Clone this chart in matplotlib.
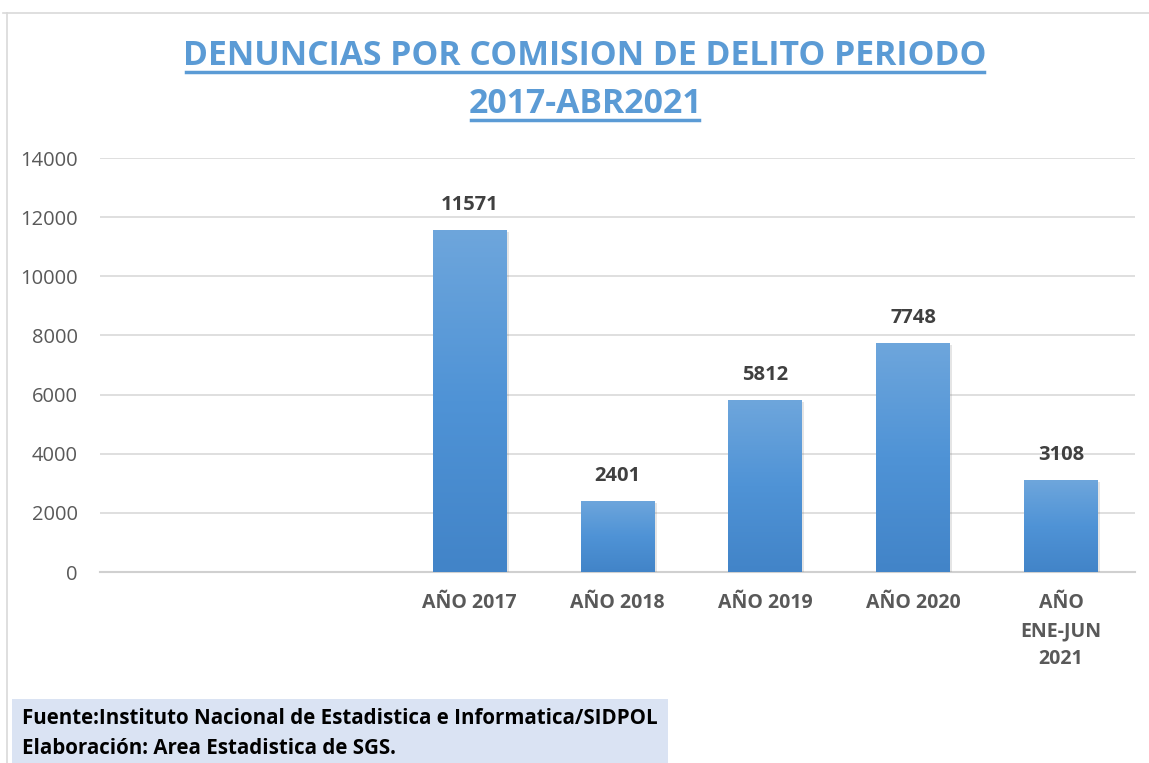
import matplotlib.pyplot as plt
import numpy as np
from matplotlib.lines import Line2D
from matplotlib.patches import Rectangle
from matplotlib.colors import LinearSegmentedColormap
import matplotlib.patheffects as pe

# === Data ===
categories = ["", "", "AÑO 2017", "AÑO 2018", "AÑO 2019", "AÑO 2020", "AÑO\nENE-JUN\n2021"]
values = [None, None, 11571, 2401, 5812, 7748, 3108]
yticks = [0, 2000, 4000, 6000, 8000, 10000, 12000, 14000]

title_lines = ["DENUNCIAS POR COMISION DE DELITO PERIODO", "2017-ABR2021"]
footer = ["Fuente:Instituto Nacional de Estadistica e Informatica/SIDPOL",
          "Elaboración: Area Estadistica de SGS."]

plt.rcParams['font.family'] = ['Open Sans', 'DejaVu Sans']

W, H = 1149, 763
fig = plt.figure(figsize=(W / 100, H / 100), dpi=100)
ax = fig.add_axes([100 / W, (H - 572) / H, 1035 / W, (572 - 158) / H])

blue_top = "#6ea6dc"
blue_bot = "#4284c8"
cmap = LinearSegmentedColormap.from_list("bars", [blue_bot, "#4f93d6", blue_top])

x = np.arange(len(categories))
vals = np.array([v if v is not None else 0 for v in values], dtype=float)
bars = ax.bar(x, vals, width=0.5, color="#5b9bd5", zorder=3,
              path_effects=[pe.SimplePatchShadow(offset=(1.5, -1.5), alpha=0.2, shadow_rgbFace="#7f7f7f"),
                            pe.Normal()])

# vertical gradient inside each bar
grad = np.linspace(0, 1, 256).reshape(-1, 1)
for b, v in zip(bars, values):
    if v is None:
        b.set_visible(False)
        continue
    x0, w = b.get_x(), b.get_width()
    im = ax.imshow(grad, extent=[x0, x0 + w, 0, v], origin="lower", aspect="auto",
                   cmap=cmap, zorder=4)
    im.set_clip_path(b)
    ax.text(x0 + w / 2, v + 500, f"{v}", ha="center", va="bottom",
            fontsize=14.5, fontweight="bold", color="#404040", zorder=5)

ax.set_xlim(-0.5, len(categories) - 0.5)
ax.set_ylim(0, 14000)
ax.set_yticks(yticks)
ax.set_yticklabels([str(t) for t in yticks], fontsize=14.5, color="#595959")
ax.set_xticks(x)
ax.set_xticklabels(categories, fontsize=14, fontweight="bold", color="#595959", linespacing=1.55)
ax.tick_params(axis="both", length=0)
ax.tick_params(axis="y", pad=16)
ax.tick_params(axis="x", pad=15)
for lbl in ax.get_xticklabels():
    lbl.set_verticalalignment("top")

ax.grid(axis="y", color="#d9d9d9", linewidth=1.2, zorder=0)
ax.set_axisbelow(True)
for s in ["top", "right", "left"]:
    ax.spines[s].set_visible(False)
ax.spines["bottom"].set_color("#d0d0d0")
ax.spines["bottom"].set_linewidth(1.5)

# outer chart frame (left and top edges)
fig.add_artist(Line2D([7 / W, 7 / W], [0, (H - 13) / H], color="#d9d9d9", linewidth=1.2))
fig.add_artist(Line2D([3 / W, 1], [(H - 13) / H, (H - 13) / H], color="#d9d9d9", linewidth=1.2))

# title with underline
title_color = "#5b9bd5"
t1 = fig.text(585 / W, (H - 56) / H, title_lines[0], ha="center", va="center",
              fontsize=24.3, fontweight="bold", color=title_color)
t2 = fig.text(585 / W, (H - 104) / H, title_lines[1], ha="center", va="center",
              fontsize=24.3, fontweight="bold", color=title_color)
fig.canvas.draw()
r = fig.canvas.get_renderer()
for t in (t1, t2):
    bb = t.get_window_extent(r)
    yl = bb.y0 + 1
    fig.add_artist(Line2D([(bb.x0 + 3) / W, (bb.x1 - 3) / W], [yl / H, yl / H],
                          color=title_color, linewidth=2.5))

# footer box
fig.add_artist(Rectangle((12 / W, 0), (668 - 12) / W, (H - 699) / H, transform=fig.transFigure,
                         facecolor="#dae3f3", edgecolor="none", zorder=0))
fig.text(22 / W, (H - 719) / H, footer[0], ha="left", va="center", fontsize=14.8,
         fontweight="bold", color="#000000")
fig.text(22 / W, (H - 749) / H, footer[1], ha="left", va="center", fontsize=14.8,
         fontweight="bold", color="#000000")

fig.savefig("out.png", dpi=100)
